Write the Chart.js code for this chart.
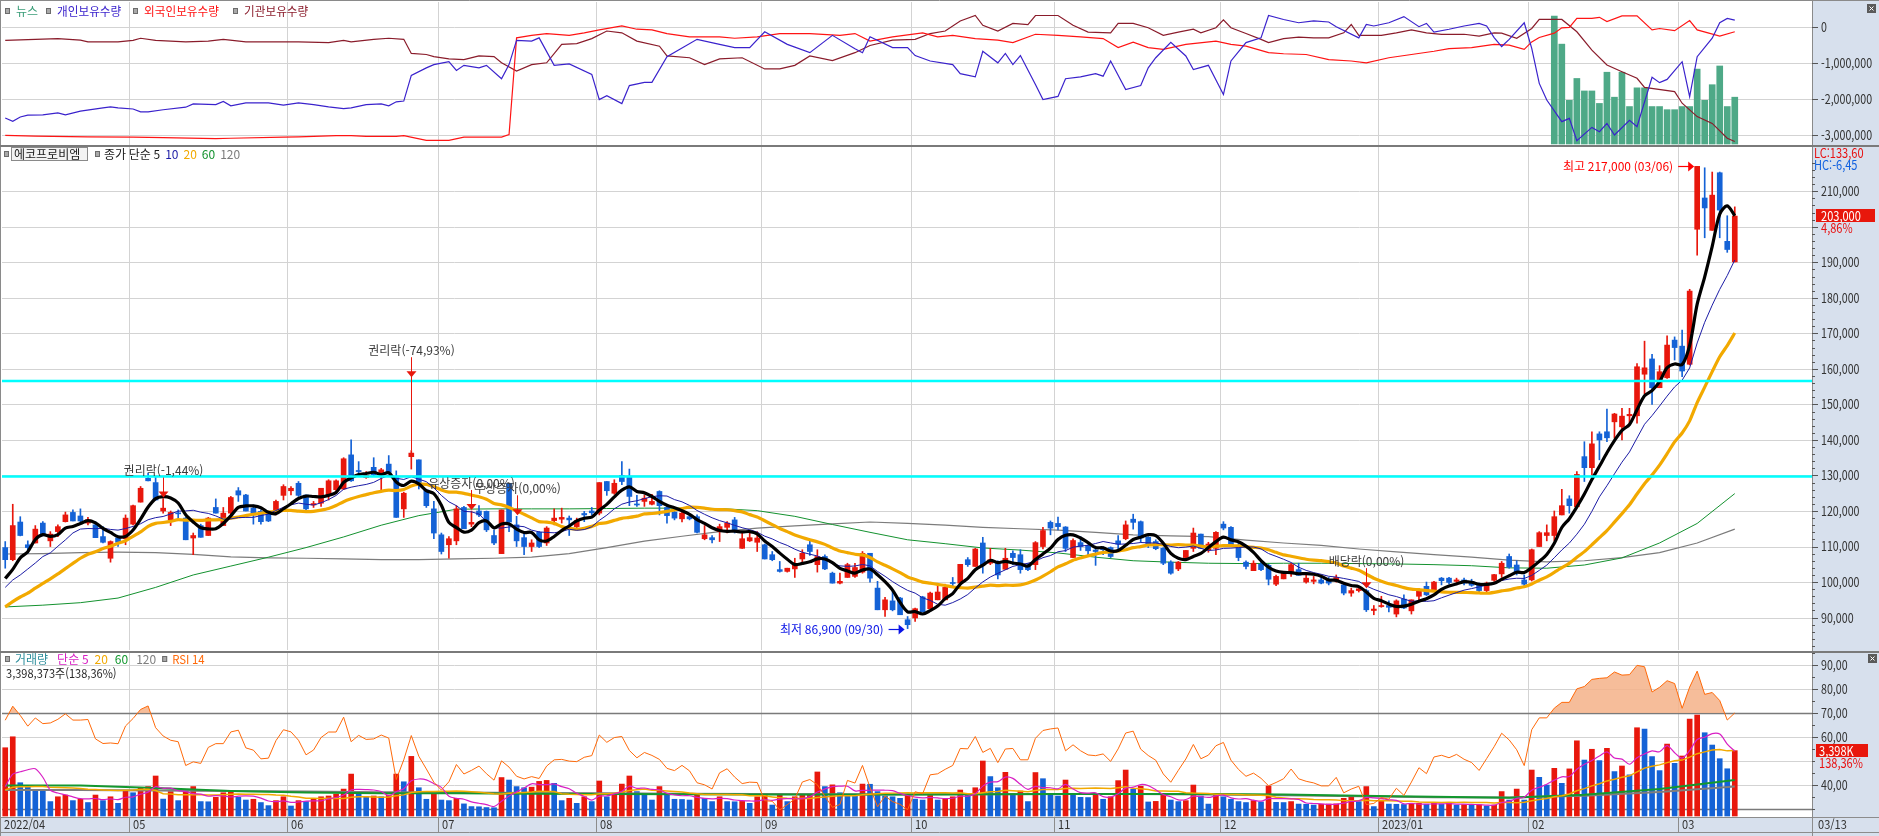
<!DOCTYPE html>
<html lang="ko">
<head>
<meta charset="utf-8">
<title>에코프로비엠</title>
<script src="https://cdn.jsdelivr.net/npm/chart.js@4.4.1/dist/chart.umd.min.js"></script>
<style>
  html, body { margin: 0; padding: 0; background: #fff; }
  #wrap { position: relative; width: 1879px; height: 836px; overflow: hidden; }
  canvas { position: absolute; left: 0; }
</style>
</head>
<body>
<div id="wrap">
  <canvas id="holdCanvas" width="1879" height="145" style="top:0"></canvas>
  <canvas id="priceCanvas" width="1879" height="506" style="top:145px"></canvas>
  <canvas id="volCanvas" width="1879" height="185" style="top:651px"></canvas>
</div>
<script>
(function () {
  'use strict';

  // ---- 데이터 (가격: 천원, 거래량/보유수량: 백만주), 인덱스 0 = 2022/04/07 ----
  const monthStart = [17, 38, 58, 79, 101, 121, 140, 162, 183, 203, 223];
  const monthLabel = ['05', '06', '07', '08', '09', '10', '11', '12', '2023/01', '02', '03'];
  const firstLabel = '2022/04';
  const lastDate = '03/13';
  const lowDate = '09/30';
  const highDate = '03/06';

  // 차트 시작 전 종가 (이동평균/RSI 계산용)
  const preClose = [86, 87, 88, 87, 86.5, 87.5, 88, 89, 88, 88, 95, 99, 93, 98, 95, 103, 97, 101, 97.7];

  const open = [
    109.7,106.3,116.9,110.5,111.0,116.6,111.6,114.2,117.0,119.6,
    118.6,116.6,116.1,112.8,106.7,112.4,112.2,116.3,122.5,129.2,
    128.0,120.0,117.5,119.4,118.0,112.4,115.9,113.1,121.0,115.9,
    119.4,125.7,124.5,120.8,119.9,119.2,120.0,124.4,125.7,127.8,
    124.5,121.7,122.2,124.5,126.0,126.2,135.8,131.4,129.4,132.3,
    130.8,133.2,129.4,120.6,135.3,134.4,125.9,120.6,113.3,110.5,
    111.6,121.0,116.3,120.0,119.9,113.1,108.0,127.8,116.1,112.5,
    110.0,114.0,111.0,117.3,117.7,118.0,115.6,119.3,120.0,119.4,
    128.3,125.0,130.0,129.7,121.8,122.7,121.9,125.5,121.0,119.7,
    117.8,118.4,118.4,112.2,112.5,114.2,115.4,117.5,109.5,111.6,
    111.2,110.5,107.7,103.5,103.0,103.7,106.5,110.5,104.9,107.2,
    102.5,99.7,101.3,101.6,102.8,108.1,98.3,92.2,94.7,95.5,
    89.4,89.9,95.8,92.5,95.0,95.0,99.8,99.7,106.3,104.4,
    111.0,105.3,105.6,103.6,108.1,107.7,104.7,104.9,110.0,116.8,
    116.5,115.5,106.9,111.1,110.2,109.0,109.5,109.7,111.6,112.2,
    117.7,117.0,112.6,111.4,109.5,105.6,103.7,106.9,109.5,113.5,
    109.1,109.5,116.3,115.4,110.2,105.6,103.2,105.0,104.7,99.4,
    100.9,102.5,103.5,100.0,100.2,100.6,100.6,100.6,99.2,96.9,
    97.6,97.6,92.0,93.1,93.4,91.0,95.2,91.9,96.0,98.8,
    97.6,101.1,101.1,100.2,100.6,100.2,99.2,97.6,100.5,102.3,
    107.2,104.8,100.6,100.6,110.0,113.1,113.1,118.9,123.4,121.2,
    135.3,132.2,141.7,142.3,145.1,143.7,146.8,146.8,158.5,162.8,
    154.7,157.5,168.1,166.4,161.3,199.3,208.1,199.0,215.2,195.9,
    190.1
  ];
  const high = [
    111.4,121.9,118.4,111.6,115.9,117.0,114.2,116.1,119.7,120.3,
    120.6,118.2,117.0,115.6,111.6,112.8,118.9,121.7,126.9,130.6,
    129.7,123.5,120.0,120.3,118.2,113.8,116.3,118.2,123.4,121.0,
    124.1,126.6,124.7,121.7,120.3,119.5,123.1,127.4,126.9,128.3,
    124.5,122.7,126.4,128.8,128.8,135.0,140.0,133.9,131.1,135.0,
    132.0,135.6,131.3,125.3,137.0,134.4,125.9,122.7,113.8,112.8,
    121.5,121.3,120.0,121.5,120.0,114.7,120.3,127.8,118.5,113.8,
    111.9,114.2,115.6,120.6,120.8,118.6,118.0,119.9,121.0,128.0,
    128.3,128.8,133.9,131.8,124.4,124.4,124.7,125.7,121.3,120.0,
    119.9,118.9,118.9,115.9,113.1,116.3,117.0,118.2,113.8,114.2,
    114.2,110.7,108.6,105.8,103.9,106.7,109.1,111.6,109.1,107.7,
    102.8,102.5,105.3,105.3,108.6,108.1,100.2,95.7,97.6,95.7,
    90.3,92.7,96.0,97.2,99.2,99.4,101.3,105.0,106.9,109.5,
    112.6,109.5,106.0,109.5,108.8,109.1,105.3,111.4,115.4,117.2,
    118.3,115.6,112.2,112.8,110.5,109.5,110.0,109.9,113.1,117.2,
    119.1,117.2,112.8,111.9,109.7,106.0,105.8,108.9,115.2,113.5,
    111.2,114.2,117.0,115.6,110.9,106.0,106.0,105.6,105.0,102.0,
    103.0,105.3,105.3,102.0,101.6,101.3,101.3,102.0,99.7,98.3,
    98.8,98.0,93.4,96.0,94.7,95.0,96.4,95.0,98.1,100.0,
    100.2,101.3,101.3,101.1,101.1,100.8,99.7,100.0,102.2,105.8,
    107.9,106.0,102.0,109.3,114.2,116.1,120.0,126.1,124.3,131.1,
    139.5,142.3,142.3,148.7,147.5,148.9,148.9,161.5,167.8,164.1,
    160.9,169.3,169.0,170.9,182.4,217.0,216.6,215.4,215.4,203.1,
    205.6
  ];
  const low = [
    103.9,106.0,113.0,108.1,111.0,113.0,110.0,112.8,116.9,117.2,
    117.0,116.1,112.5,111.0,105.6,110.0,110.5,116.1,122.5,128.5,
    123.1,119.4,115.9,117.5,111.9,107.7,112.6,113.1,119.4,115.9,
    118.9,122.7,120.0,116.3,116.3,117.0,118.9,123.1,124.5,124.1,
    120.0,121.0,121.3,123.1,125.0,126.0,128.3,130.2,129.2,130.0,
    125.5,130.6,118.2,118.2,131.8,126.2,121.0,112.2,107.9,106.7,
    110.5,115.0,115.6,118.4,114.2,110.5,108.0,114.2,110.0,107.7,
    108.6,109.7,110.3,116.1,116.6,113.1,115.2,117.0,118.9,118.9,
    124.4,124.7,127.4,121.5,121.3,121.3,121.7,118.9,116.6,117.5,
    116.9,117.5,113.8,111.9,111.0,111.4,113.8,113.8,109.5,111.4,
    108.6,106.5,106.0,102.8,102.8,101.3,104.9,107.5,102.8,103.5,
    99.7,99.5,101.3,101.3,102.5,100.0,92.2,90.3,91.9,90.8,
    86.9,88.9,91.6,92.5,95.0,95.0,98.5,99.7,104.4,104.4,
    102.5,104.9,100.9,103.5,104.9,102.5,103.2,103.5,109.3,113.3,
    114.7,108.6,106.9,108.9,107.5,104.7,107.7,106.9,109.4,111.9,
    114.9,111.2,109.7,109.1,104.9,102.2,103.2,106.7,108.6,109.4,
    108.4,107.7,114.7,110.0,106.0,103.7,103.2,103.2,99.2,99.0,
    100.9,101.6,101.9,99.7,99.5,99.5,99.2,100.0,96.4,96.0,
    97.2,91.7,90.8,92.9,91.6,90.2,92.5,91.0,94.6,96.2,
    97.4,99.2,99.5,99.5,99.2,98.8,96.9,96.9,100.2,101.3,
    103.9,102.0,98.8,100.3,110.0,111.6,111.6,118.9,119.4,121.2,
    128.3,130.1,134.4,139.5,140.5,140.0,144.7,144.7,153.0,150.0,
    154.7,157.3,162.5,157.8,161.1,192.0,196.9,199.0,196.9,192.8,
    190.1
  ];
  const close = [
    106.3,115.9,113.1,109.7,114.9,113.1,113.5,115.6,118.9,117.2,
    117.2,117.5,112.5,111.2,111.4,111.2,118.0,121.5,126.4,128.5,
    123.1,120.8,119.6,119.2,111.9,113.1,112.6,118.0,119.4,119.4,
    123.8,124.5,120.0,119.4,117.0,117.2,122.7,126.9,126.4,124.4,
    120.6,122.1,126.4,128.5,128.5,134.7,128.5,131.1,130.0,130.2,
    131.6,130.9,118.2,125.0,136.3,127.8,121.5,113.8,108.6,112.2,
    120.6,115.0,116.8,118.9,114.7,111.0,120.3,116.9,111.6,110.0,
    111.0,110.0,115.2,118.0,118.2,117.5,117.3,118.9,119.5,128.0,
    125.7,127.8,128.3,124.1,121.7,123.6,122.7,121.5,118.7,118.0,
    119.4,117.8,114.0,113.3,111.9,115.6,116.6,114.2,112.2,112.5,
    112.4,106.5,106.3,103.0,103.9,104.9,108.1,108.6,107.2,103.7,
    99.7,100.2,104.9,104.1,108.1,101.1,92.2,95.0,92.2,90.8,
    88.0,92.5,91.6,96.9,97.2,98.5,99.6,105.0,104.9,109.3,
    104.9,106.3,102.0,106.7,106.9,103.5,103.5,111.1,114.5,115.2,
    115.6,109.5,111.7,110.0,108.8,108.6,109.1,107.2,110.7,116.1,
    116.8,112.4,110.7,109.4,105.3,102.5,105.6,108.9,113.8,109.5,
    110.7,114.0,115.2,110.0,106.9,104.4,105.3,103.5,100.8,101.6,
    102.5,104.9,101.9,101.1,100.6,99.7,99.7,101.3,96.9,97.6,
    98.1,92.2,92.4,93.4,92.9,94.7,92.7,95.0,97.8,96.4,
    100.0,100.4,99.9,100.6,99.7,99.1,97.6,99.7,102.1,105.3,
    104.2,102.5,99.4,109.1,113.9,113.9,118.4,121.5,121.5,130.3,
    132.2,138.9,140.0,140.6,147.3,146.7,147.2,160.6,160.3,154.7,
    159.2,166.7,166.0,159.4,181.9,217.0,205.3,208.9,204.7,193.6,
    203.0
  ];

  const preVolume = [1.3, 1.1, 1.5, 1.2, 1.4, 1.6, 1.2, 1.3, 1.1, 1.4, 1.5, 1.3, 1.2, 1.3, 1.0, 0.9, 1.1, 1.0, 1.1];
  const volume = [
    3.55,4.12,1.73,1.53,1.35,1.34,0.75,1.00,1.09,0.80,
    0.87,0.70,1.09,0.80,1.00,0.66,1.32,1.21,1.49,1.53,
    2.08,0.88,1.27,0.80,1.32,1.53,0.75,0.74,0.97,1.21,
    1.27,0.97,0.83,0.87,0.70,0.54,0.80,1.00,0.52,0.80,
    0.75,0.87,1.00,1.04,1.14,1.40,2.18,1.14,1.00,1.04,
    1.00,1.09,2.18,1.78,3.10,1.47,0.87,1.18,0.83,0.80,
    0.92,0.63,0.49,0.48,0.44,0.43,2.00,1.87,1.53,1.47,
    1.50,1.80,1.85,1.70,0.80,0.92,0.66,1.00,0.75,1.82,
    1.00,1.18,1.66,2.08,1.27,1.09,0.83,1.53,1.18,0.87,
    0.86,0.83,1.09,0.92,0.75,1.00,0.75,0.74,0.76,0.66,
    1.00,1.09,0.57,1.09,0.75,1.00,1.09,1.10,2.29,1.53,
    1.62,1.21,1.09,1.08,1.66,1.65,1.27,1.04,1.00,0.92,
    1.09,0.88,0.83,1.09,0.83,0.87,1.00,1.35,1.09,1.47,
    2.86,2.05,1.47,2.27,1.14,1.30,0.75,2.26,1.94,1.09,
    1.04,1.87,1.09,0.97,0.96,1.14,0.87,1.00,1.84,2.39,
    1.40,1.55,0.73,0.76,1.14,0.83,0.75,0.80,1.61,1.04,
    0.62,1.18,1.00,0.87,0.75,0.70,0.80,0.73,1.56,0.71,
    0.70,0.75,0.62,0.61,0.57,0.61,0.62,0.63,0.92,1.00,
    0.75,1.53,0.49,0.83,0.62,0.61,0.60,0.62,0.66,0.61,
    0.66,0.61,0.66,0.57,0.59,0.57,0.58,0.52,0.57,1.27,
    0.83,1.40,0.83,2.39,2.01,1.61,2.48,1.70,2.45,3.91,
    2.91,3.47,2.88,3.52,2.31,2.60,2.14,4.59,4.52,3.09,
    2.36,3.74,2.74,3.12,5.04,5.25,4.33,3.69,2.98,2.4562,
    3.398373
  ];

  // 60/120일 이동평균 (가격: 5일 간격, 거래량: 10일 간격으로 읽은 값)
  const ma60 = [93.0,93.5,94.2,95.5,98.5,102.0,104.5,107.0,109.7,112.7,116.0,118.7,120.5,120.6,120.6,120.6,
    120.7,120.8,120.8,120.7,120.1,118.5,116.2,114.0,111.9,110.8,109.6,109.0,108.2,107.0,106.0,105.6,
    105.3,105.2,105.3,105.3,105.2,105.1,104.9,104.6,104.0,103.9,104.8,106.8,111.0,116.5,124.9];
  const ma120 = [107.9,108.0,108.3,108.4,108.3,107.8,107.1,106.8,106.7,106.5,106.3,106.3,106.5,106.7,107.0,108.0,
    109.7,111.5,112.9,114.2,115.2,115.8,116.4,116.9,116.5,116.0,115.4,115.0,114.6,114.0,113.3,113.0,
    112.8,111.8,111.0,110.3,109.3,108.5,107.7,107.0,106.2,105.7,106.0,106.9,108.3,111.0,114.9];
  const volMa60 = [1.58,1.58,1.45,1.30,1.22,1.18,1.18,1.16,1.14,1.13,1.12,1.12,1.12,1.13,1.14,1.15,1.15,1.12,1.05,1.00,0.95,1.10,1.40,1.87];
  const volMa120 = [1.35,1.35,1.33,1.30,1.27,1.24,1.22,1.20,1.18,1.16,1.14,1.13,1.12,1.13,1.14,1.14,1.12,1.08,1.03,0.98,0.96,1.05,1.25,1.53];

  const supportLines = [156.6, 129.7];

  const newsStart = 206;
  const newsCount = [41, 32, 14, 21, 17, 17, 13, 23, 15, 23, 12, 18, 18, 12, 12, 11, 11, 12, 12, 24, 14, 19, 25, 12, 15];

  const individualHold = [[0,-2.53],[1,-2.62],[2,-2.5],[3,-2.45],[5,-2.44],[7,-2.39],[8,-2.44],[10,-2.34],[13,-2.25],[14,-2.22],
    [15,-2.25],[17,-2.28],[18,-2.36],[19,-2.36],[21,-2.3],[24,-2.23],[25,-2.14],[28,-2.16],[29,-2.07],[30,-2.19],[32,-2.11],
    [35,-2.11],[37,-2.17],[39,-2.11],[41,-2.16],[43,-2.22],[45,-2.27],[46,-2.25],[48,-2.16],[50,-2.14],[51,-2.19],[52,-2.08],
    [53,-2.06],[54,-1.35],[56,-1.14],[57,-1.05],[59,-0.97],[60,-1.21],[61,-1.07],[63,-1.14],[64,-1.07],[66,-1.44],[67,-1.05],
    [68,-0.38],[70,-0.4],[71,-0.31],[73,-1.07],[75,-1.03],[78,-1.32],[79,-2.02],[80,-1.91],[82,-2.13],[83,-1.63],[85,-1.54],
    [86,-1.54],[88,-0.83],[92,-0.35],[95,-0.49],[97,-0.58],[99,-0.58],[101,-0.14],[104,-0.49],[107,-0.72],[110,-0.24],
    [113,-0.61],[114,-0.72],[115,-0.28],[118,-0.58],[120,-0.58],[121,-0.8],[123,-0.95],[126,-1.05],[127,-1.3],[129,-1.39],
    [130,-0.68],[132,-1.0],[133,-0.74],[134,-1.05],[135,-0.8],[137,-1.6],[138,-2.02],[140,-1.93],[141,-1.44],[143,-1.39],
    [145,-1.3],[146,-1.37],[147,-0.95],[149,-1.74],[151,-1.63],[152,-1.14],[153,-0.86],[155,-0.43],[157,-0.81],[158,-1.19],
    [160,-1.07],[162,-1.88],[163,-0.95],[165,-0.44],[167,-0.31],[168,0.31],[170,0.2],[172,0.11],[174,0.16],[176,0.13],
    [177,0],[180,-0.31],[181,0.06],[182,0.02],[184,0.11],[186,0.28],[188,0],[189,0.09],[190,-0.15],[192,-0.07],[194,0.02],
    [196,0.09],[197,0.02],[198,-0.3],[199,-0.55],[200,-0.35],[202,0.11],[203,-0.6],[204,-1.57],[205,-2.03],[207,-2.63],
    [208,-2.54],[209,-3.16],[211,-2.79],[212,-2.91],[213,-2.68],[214,-3.0],[216,-2.59],[217,-2.77],[219,-1.4],[220,-1.55],
    [221,-1.46],[223,-0.97],[224,-1.94],[225,-0.83],[227,-0.32],[228,0.11],[229,0.23],[230,0.18]];
  const foreignHold = [[0,-3.01],[4,-3.03],[11,-3.05],[17,-3.06],[21,-3.07],[28,-3.1],[30,-3.09],[37,-3.06],[39,-3.05],[44,-3.02],
    [46,-3.02],[48,-3.04],[52,-3.04],[53,-3.02],[56,-3.15],[59,-3.15],[61,-3.06],[66,-3.06],[67,-2.99],[68,-0.31],[70,-0.24],
    [72,-0.19],[75,-0.24],[77,-0.17],[79,-0.09],[82,0.02],[84,-0.07],[86,-0.09],[88,-0.19],[91,-0.28],[95,-0.28],[97,-0.32],
    [100,-0.28],[103,-0.19],[107,-0.19],[111,-0.24],[113,-0.19],[115,-0.4],[118,-0.28],[122,-0.17],[124,-0.28],[126,-0.24],
    [129,-0.33],[132,-0.37],[134,-0.44],[137,-0.21],[140,-0.24],[143,-0.28],[146,-0.33],[148,-0.58],[150,-0.43],[152,-0.58],
    [154,-0.63],[157,-0.49],[161,-0.4],[163,-0.49],[165,-0.54],[168,-0.72],[170,-0.75],[173,-0.77],[176,-0.91],[179,-0.95],
    [181,-1.0],[184,-0.86],[187,-0.77],[190,-0.68],[192,-0.61],[195,-0.58],[198,-0.49],[200,-0.51],[202,-0.63],[203,-0.42],
    [204,-0.3],[206,-0.18],[207,-0.03],[208,-0.02],[209,0.23],[211,0.23],[212,0.26],[213,0.14],[215,0.3],[217,0.3],
    [219,-0.09],[220,-0.05],[222,-0.11],[224,0.17],[225,-0.09],[228,-0.26],[230,-0.14]];
  const institutionHold = [[0,-0.38],[4,-0.35],[7,-0.33],[10,-0.37],[11,-0.42],[15,-0.42],[17,-0.38],[18,-0.32],[20,-0.38],
    [24,-0.42],[27,-0.4],[29,-0.35],[32,-0.42],[39,-0.42],[43,-0.44],[45,-0.38],[46,-0.42],[49,-0.35],[51,-0.32],[53,-0.35],
    [54,-0.74],[56,-0.77],[57,-0.83],[59,-0.89],[61,-0.91],[63,-0.81],[65,-0.83],[66,-1.0],[68,-1.23],[70,-1.05],[72,-1.0],
    [74,-0.49],[76,-0.47],[78,-0.33],[80,-0.12],[82,-0.17],[84,-0.4],[87,-0.54],[88,-0.81],[91,-0.86],[93,-1.05],[95,-0.89],
    [98,-0.86],[101,-1.17],[103,-1.17],[105,-1.07],[107,-0.81],[110,-0.94],[113,-0.72],[115,-0.52],[118,-0.37],[121,-0.35],
    [123,-0.19],[125,-0.12],[127,0.16],[129,0.31],[130,0.04],[132,-0.12],[134,0.09],[136,0.06],[137,0.31],[140,0.31],
    [142,0.04],[144,-0.15],[147,-0.17],[148,0.09],[150,0.09],[152,-0.03],[154,-0.24],[156,-0.15],[158,-0.07],[159,-0.17],
    [161,-0.03],[162,0.19],[163,-0.03],[165,-0.19],[167,-0.35],[168,-0.44],[170,-0.33],[172,-0.29],[174,-0.31],[176,-0.31],
    [178,-0.17],[179,0.06],[180,-0.24],[183,-0.24],[185,-0.17],[187,-0.09],[189,-0.17],[191,-0.21],[194,-0.21],[196,-0.26],
    [198,-0.17],[199,-0.18],[201,-0.32],[203,-0.05],[204,0.2],[207,0.2],[209,-0.14],[211,-0.65],[213,-1.06],[215,-1.25],
    [217,-1.43],[218,-1.68],[222,-1.8],[223,-2.12],[225,-2.49],[227,-2.68],[229,-3.09],[230,-3.18]];

  const markers = [
    { i: 21, text: '권리락(-1,44%)' },
    { i: 54, text: '권리락(-74,93%)', arrowPrice: 158.5 },
    { i: 62, text: '유상증자(0,00%)' },
    { i: 68, text: '무상증자(0,00%)' },
    { i: 181, text: '배당락(0,00%)' }
  ];

  const holdTicks = [0, -1, -2, -3];
  const priceTicks = [90, 100, 110, 120, 130, 140, 150, 160, 170, 180, 190, 200, 210];
  const rsiGrid = [90, 80, 60, 50, 40];
  const rsiLabels = [90, 80, 70, 60, 40];

  // ---- 스타일 ----
  const BAND_X = 1812, BAND_BG = '#d7e0ed', GRID = '#d3d3d3', EDGE = '#8a8a8a';
  const RED = '#e8170c', BLUE = '#1462d6';
  const FONT = '"Noto Sans CJK KR", "Noto Sans", sans-serif';
  const X_MIN = -0.43, X_MAX = 240.27;

  // ---- 계산 ----
  function movingAverage(series, pre, n) {
    const all = pre.concat(series);
    return series.map(function (_, i) {
      const end = pre.length + i, start = Math.max(0, end - n + 1);
      let s = 0;
      for (let k = start; k <= end; k++) s += all[k];
      return s / (end - start + 1);
    });
  }
  // Wilder 방식 RSI
  function rsi(series, pre, n) {
    const all = pre.concat(series);
    const out = [];
    let ag = 0, al = 0;
    for (let k = 1; k < all.length; k++) {
      const d = all[k] - all[k - 1], g = Math.max(d, 0), l = Math.max(-d, 0);
      if (k <= n) { ag += g / n; al += l / n; }
      else { ag = (ag * (n - 1) + g) / n; al = (al * (n - 1) + l) / n; }
      if (k >= pre.length) out.push(ag + al === 0 ? 50 : 100 * ag / (ag + al));
    }
    return out;
  }
  const pts = function (arr, step) { return arr.map(function (v, k) { return { x: k * (step || 1), y: v }; }); };
  const pairs = function (arr) { return arr.map(function (p) { return { x: p[0], y: p[1] }; }); };
  const comma = function (n, d) { return n.toFixed(d).replace('.', ','); };
  const thousands = function (n) { return Math.round(n).toLocaleString('en-US'); };

  const ma5 = movingAverage(close, preClose, 5);
  const ma10 = movingAverage(close, preClose, 10);
  const ma20 = movingAverage(close, preClose, 20);
  const rsi14 = rsi(close, preClose, 14);
  const volMa5 = movingAverage(volume, preVolume, 5);
  const volMa20 = movingAverage(volume, preVolume, 20);

  const last = close.length - 1;
  const lowest = Math.min.apply(null, low), highest = Math.max.apply(null, high);
  const lowIdx = low.indexOf(lowest), highIdx = high.indexOf(highest);

  // ---- 그리기 도우미 ----
  function line(ctx, x1, y1, x2, y2) { ctx.beginPath(); ctx.moveTo(x1, y1); ctx.lineTo(x2, y2); ctx.stroke(); }
  function put(ctx, str, x, y, color, size, sx, align) {
    ctx.save();
    ctx.font = size + 'px ' + FONT;
    ctx.fillStyle = color;
    ctx.textBaseline = 'middle';
    ctx.textAlign = align || 'left';
    ctx.translate(x, y);
    ctx.scale(sx || 1, 1);
    ctx.fillText(str, 0, 0);
    const w = ctx.measureText(str).width * (sx || 1);
    ctx.restore();
    return w;
  }
  function legendSquare(ctx, x, y) {
    ctx.save();
    ctx.fillStyle = '#a9a9a9'; ctx.fillRect(x, y - 3, 5, 6);
    ctx.strokeStyle = '#6c6c6c'; ctx.lineWidth = 1; ctx.strokeRect(x + 0.5, y - 2.5, 4, 5);
    ctx.restore();
  }
  function legendRun(ctx, x, y, parts) {
    parts.forEach(function (p) { x += put(ctx, p[0], x, y, p[1], 12, 1) + (p[2] == null ? 4 : p[2]); });
    return x;
  }
  function closeBtn(ctx, x, y) {
    ctx.save();
    ctx.fillStyle = '#5a5a5a'; ctx.fillRect(x, y, 9, 9);
    ctx.strokeStyle = '#fff'; ctx.lineWidth = 1;
    line(ctx, x + 2.5, y + 2.5, x + 6.5, y + 6.5); line(ctx, x + 6.5, y + 2.5, x + 2.5, y + 6.5);
    ctx.restore();
  }
  function paintBack(chart) {
    const ctx = chart.ctx;
    ctx.save();
    ctx.fillStyle = '#fff'; ctx.fillRect(0, 0, chart.width, chart.height);
    ctx.fillStyle = BAND_BG; ctx.fillRect(BAND_X, 0, chart.width - BAND_X, chart.height);
    ctx.restore();
  }
  function paintGrid(chart, yScale, values) {
    const ctx = chart.ctx, a = chart.chartArea, xs = chart.scales.x;
    ctx.save();
    ctx.beginPath(); ctx.rect(a.left, a.top, a.right - a.left, a.bottom - a.top); ctx.clip();
    ctx.strokeStyle = GRID; ctx.lineWidth = 1;
    values.forEach(function (v) { const y = Math.round(yScale.getPixelForValue(v)) + 0.5; line(ctx, a.left, y, a.right, y); });
    monthStart.forEach(function (m) { const x = Math.round(xs.getPixelForValue(m - 0.5)) + 0.5; line(ctx, x, a.top, x, a.bottom); });
    ctx.restore();
  }
  function paintEdges(chart, topLine) {
    const ctx = chart.ctx;
    ctx.save();
    ctx.strokeStyle = EDGE; ctx.lineWidth = 1;
    line(ctx, BAND_X + 0.5, 0, BAND_X + 0.5, chart.height);
    line(ctx, 0.5, 0, 0.5, chart.height);
    if (topLine) { ctx.strokeStyle = '#7a7a7a'; ctx.lineWidth = 2; line(ctx, 0, 1, chart.width, 1); }
    ctx.restore();
  }
  function tick(ctx, y, len) {
    ctx.save(); ctx.strokeStyle = '#555'; ctx.lineWidth = 1;
    const yy = Math.round(y) + 0.5; line(ctx, BAND_X, yy, BAND_X + len, yy);
    ctx.restore();
  }
  function axisLabel(ctx, y, str) { tick(ctx, y, 6); put(ctx, str, BAND_X + 9, y, '#333', 13, 0.82); }

  const xScale = { type: 'linear', axis: 'x', display: false, min: X_MIN, max: X_MAX, offset: false, bounds: 'data' };
  const yScale = function (min, max) { return { type: 'linear', axis: 'y', display: false, min: min, max: max, bounds: 'data' }; };
  const baseOptions = function (padding, scales) {
    return {
      responsive: false, animation: false, events: [],
      layout: { padding: padding },
      elements: { point: { radius: 0 }, line: { tension: 0 } },
      plugins: { legend: { display: false }, tooltip: { enabled: false } },
      scales: scales
    };
  };
  const lineSet = function (data, color, width, order, yId, extra) {
    return Object.assign({ type: 'line', data: data, borderColor: color, borderWidth: width, pointRadius: 0,
      fill: false, order: order, yAxisID: yId }, extra || {});
  };

  // ---- 상단: 보유수량 / 뉴스 ----
  new Chart(document.getElementById('holdCanvas'), {
    type: 'bar',
    data: {
      datasets: [
        lineSet(pairs(individualHold), '#3a22cc', 1.2, 1, 'y'),
        lineSet(pairs(foreignHold), '#ff1414', 1.2, 2, 'y'),
        lineSet(pairs(institutionHold), '#8a1c2b', 1.2, 3, 'y'),
        { type: 'bar', data: newsCount.map(function (v, k) { return { x: newsStart + k, y: v }; }),
          backgroundColor: '#4ea987', barThickness: 6, grouped: false, order: 4, yAxisID: 'yNews' }
      ]
    },
    options: baseOptions({ left: 2, right: 67, top: 2, bottom: 0 }, {
      x: xScale,
      y: yScale(-3.277, 0.684),
      yNews: yScale(-0.32, 45.5)
    }),
    plugins: [{
      id: 'holdDecor',
      beforeDraw: paintBack,
      beforeDatasetsDraw: function (chart) { paintGrid(chart, chart.scales.y, holdTicks); },
      afterDraw: function (chart) {
        const ctx = chart.ctx, ys = chart.scales.y;
        paintEdges(chart, false);
        ctx.save(); ctx.strokeStyle = EDGE; ctx.lineWidth = 1; line(ctx, 0, 0.5, chart.width, 0.5); ctx.restore();
        holdTicks.forEach(function (v) { axisLabel(ctx, ys.getPixelForValue(v), thousands(v * 1e6)); });
        legendSquare(ctx, 5, 11); put(ctx, '뉴스', 16, 11, '#3a9d78', 12, 1);
        legendSquare(ctx, 46, 11); put(ctx, '개인보유수량', 57, 11, '#3a22cc', 12, 0.97);
        legendSquare(ctx, 133, 11); put(ctx, '외국인보유수량', 144, 11, '#ff1414', 12, 0.97);
        legendSquare(ctx, 233, 11); put(ctx, '기관보유수량', 244, 11, '#8a1c2b', 12, 0.97);
        closeBtn(ctx, 1867, 4);
      }
    }]
  });

  // ---- 가격 차트 ----
  const candleColor = close.map(function (c, i) { return c >= open[i] ? RED : BLUE; });
  new Chart(document.getElementById('priceCanvas'), {
    type: 'bar',
    data: {
      datasets: supportLines.map(function (v) {
        return lineSet([{ x: X_MIN, y: v }, { x: X_MAX, y: v }], '#00ffff', 2.5, 0, 'y');
      }).concat([
        lineSet(pts(ma5), '#000000', 3.2, 1, 'y', { tension: 0.3 }),
        lineSet(pts(ma10), '#1c1ca6', 1, 2, 'y'),
        lineSet(pts(ma20), '#f2a900', 3.2, 3, 'y', { tension: 0.2 }),
        { type: 'bar', data: close.map(function (c, i) { return { x: i, y: [open[i], c] }; }),
          backgroundColor: candleColor, barThickness: 5, minBarLength: 1, grouped: false, order: 4, yAxisID: 'y' },
        { type: 'bar', data: close.map(function (c, i) { return { x: i, y: [low[i], high[i]] }; }),
          backgroundColor: candleColor, barThickness: 1, grouped: false, order: 5, yAxisID: 'y' },
        lineSet(pts(ma60, 5), '#14922f', 1, 6, 'y'),
        lineSet(pts(ma120, 5), '#7c7c7c', 1.2, 7, 'y')
      ])
    },
    options: baseOptions({ left: 2, right: 67, top: 1, bottom: 1 }, {
      x: xScale,
      y: yScale(80.88, 222.73)
    }),
    plugins: [{
      id: 'priceDecor',
      beforeDraw: paintBack,
      beforeDatasetsDraw: function (chart) { paintGrid(chart, chart.scales.y, priceTicks); },
      afterDatasetsDraw: function (chart) {
        const ctx = chart.ctx, xs = chart.scales.x, ys = chart.scales.y;
        markers.forEach(function (m) {
          const x = Math.round(xs.getPixelForValue(m.i)) + 0.5;
          const topY = ys.getPixelForValue(high[m.i]);
          const triY = m.arrowPrice ? ys.getPixelForValue(m.arrowPrice) : topY - 4;
          const textY = triY - 24;
          ctx.save();
          ctx.strokeStyle = RED; ctx.fillStyle = RED; ctx.lineWidth = 1;
          line(ctx, x, textY + 7, x, triY);
          if (m.arrowPrice) line(ctx, x, triY, x, topY);
          ctx.beginPath(); ctx.moveTo(x - 5, triY - 3); ctx.lineTo(x + 5, triY - 3); ctx.lineTo(x, triY + 3); ctx.closePath(); ctx.fill();
          ctx.restore();
          put(ctx, m.text, x, textY, '#3a3a3a', 12, 1, 'center');
        });
        function pointer(idx, price, color, label) {
          const tip = xs.getPixelForValue(idx) - 3, y = Math.round(ys.getPixelForValue(price)) + 0.5;
          ctx.save(); ctx.strokeStyle = color; ctx.fillStyle = color; ctx.lineWidth = 1.2;
          line(ctx, tip - 16, y, tip - 5, y);
          ctx.beginPath(); ctx.moveTo(tip, y); ctx.lineTo(tip - 6, y - 5); ctx.lineTo(tip - 6, y + 5); ctx.closePath(); ctx.fill();
          ctx.restore();
          put(ctx, label, tip - 21, y, color, 12, 1, 'right');
        }
        pointer(highIdx, highest, '#ff0000', '최고 ' + thousands(highest * 1000) + ' (' + highDate + ')');
        pointer(lowIdx, lowest, '#0a14e6', '최저 ' + thousands(lowest * 1000) + ' (' + lowDate + ')');
      },
      afterDraw: function (chart) {
        const ctx = chart.ctx, ys = chart.scales.y;
        paintEdges(chart, true);
        const py = ys.getPixelForValue(close[last]);
        for (let v = 82; v <= 218; v += 2) {
          const y = ys.getPixelForValue(v);
          if (priceTicks.indexOf(v) >= 0 && (y < py - 10 || y > py + 20)) axisLabel(ctx, y, thousands(v * 1000));
          else tick(ctx, y, priceTicks.indexOf(v) >= 0 ? 6 : 3);
        }
        // LC / HC
        put(ctx, 'LC:' + comma((close[last] - lowest) / lowest * 100, 2), BAND_X + 2, 8, '#e81010', 13, 0.85);
        put(ctx, 'HC:' + comma((close[last] - highest) / highest * 100, 2), BAND_X + 2, 20, '#1060e0', 13, 0.85);
        // 현재가
        ctx.save(); ctx.fillStyle = RED; ctx.fillRect(BAND_X + 4, Math.round(py) - 7, 59, 13); ctx.restore();
        put(ctx, thousands(close[last] * 1000), BAND_X + 9, py, '#ffffff', 13, 0.85);
        put(ctx, comma((close[last] - close[last - 1]) / close[last - 1] * 100, 2) + '%', BAND_X + 9, py + 12, '#e81010', 13, 0.85);
        // 범례
        legendSquare(ctx, 4, 9);
        ctx.save(); ctx.fillStyle = '#f3f3f3'; ctx.fillRect(11, 2, 77, 14);
        ctx.strokeStyle = '#8a8a8a'; ctx.lineWidth = 1; ctx.strokeRect(11.5, 2.5, 76, 13); ctx.restore();
        put(ctx, '에코프로비엠', 14, 9, '#1a1a1a', 12, 1);
        legendSquare(ctx, 95, 9);
        legendRun(ctx, 104, 9, [['종가 단순 5', '#1a1a1a', 5], ['10', '#1c1ca6', 5], ['20', '#f2a900', 5], ['60', '#14922f', 5], ['120', '#7c7c7c', 0]]);
      }
    }]
  });

  // ---- 거래량 / RSI ----
  const volColor = volume.map(function (v, i) {
    const prev = i === 0 ? preVolume[preVolume.length - 1] : volume[i - 1];
    return v > prev ? RED : BLUE;
  });
  new Chart(document.getElementById('volCanvas'), {
    type: 'bar',
    data: {
      datasets: [
        lineSet(pts(rsi14), '#ff6a0a', 1, 1, 'yRsi', {
          fill: { target: { value: 70 }, above: 'rgba(244,178,136,0.85)', below: 'rgba(0,0,0,0)' } }),
        lineSet(pts(volMa5), '#d81fc4', 1.2, 2, 'yVol', { tension: 0.3 }),
        lineSet(pts(volMa20), '#f2a900', 1.5, 3, 'yVol'),
        lineSet(pts(volMa60, 10), '#13982f', 2, 4, 'yVol'),
        lineSet(pts(volMa120, 10), '#7e7e7e', 2, 5, 'yVol'),
        { type: 'bar', data: volume.map(function (v, i) { return { x: i, y: v }; }),
          backgroundColor: volColor, barThickness: 5, grouped: false, order: 6, yAxisID: 'yVol' }
      ]
    },
    options: baseOptions({ left: 2, right: 67, top: 1, bottom: 19 }, {
      x: xScale,
      yVol: yScale(-0.052, 8.528),
      yRsi: yScale(26.83, 95.4)
    }),
    plugins: [{
      id: 'volDecor',
      beforeDraw: function (chart) {
        paintBack(chart);
        const ctx = chart.ctx, a = chart.chartArea;
        ctx.save(); ctx.fillStyle = BAND_BG; ctx.fillRect(0, a.bottom, chart.width, chart.height - a.bottom); ctx.restore();
      },
      beforeDatasetsDraw: function (chart) {
        const ctx = chart.ctx, a = chart.chartArea, rs = chart.scales.yRsi;
        paintGrid(chart, rs, rsiGrid);
        ctx.save(); ctx.strokeStyle = '#7a7a7a'; ctx.lineWidth = 1.5;
        [70, 30].forEach(function (v) { const y = Math.round(rs.getPixelForValue(v)) + 0.5; line(ctx, a.left, y, a.right, y); });
        ctx.restore();
      },
      afterDraw: function (chart) {
        const ctx = chart.ctx, a = chart.chartArea, xs = chart.scales.x, rs = chart.scales.yRsi, vs = chart.scales.yVol;
        paintEdges(chart, true);
        for (let v = 30; v <= 95; v += 5) {
          if (rsiLabels.indexOf(v) >= 0) axisLabel(ctx, rs.getPixelForValue(v), comma(v, 2));
          else tick(ctx, rs.getPixelForValue(v), 3);
        }
        const vy = vs.getPixelForValue(volume[last]);
        ctx.save(); ctx.fillStyle = RED; ctx.fillRect(BAND_X + 4, Math.round(vy) - 7, 52, 13); ctx.restore();
        put(ctx, thousands(volume[last] * 1000) + 'K', BAND_X + 7, vy, '#ffffff', 13, 0.85);
        put(ctx, comma(volume[last] / volume[last - 1] * 100, 2) + '%', BAND_X + 7, vy + 12, '#e81010', 13, 0.85);
        // 날짜 축
        const bt = a.bottom;
        ctx.save(); ctx.strokeStyle = '#8c8c8c'; ctx.lineWidth = 1;
        line(ctx, 0, bt + 0.5, chart.width, bt + 0.5);
        line(ctx, 0, chart.height - 3.5, chart.width, chart.height - 3.5);
        monthStart.forEach(function (m) { const x = Math.round(xs.getPixelForValue(m - 0.5)) + 0.5; line(ctx, x, bt, x, chart.height - 3); });
        line(ctx, BAND_X + 0.5, bt, BAND_X + 0.5, chart.height);
        ctx.restore();
        put(ctx, firstLabel, 4, bt + 7, '#333', 12, 0.92);
        monthStart.forEach(function (m, k) { put(ctx, monthLabel[k], Math.round(xs.getPixelForValue(m - 0.5)) + 4, bt + 7, '#333', 12, 0.92); });
        put(ctx, lastDate, BAND_X + 6, bt + 7, '#333', 12, 0.92);
        // 범례
        legendSquare(ctx, 5, 8);
        const x1 = legendRun(ctx, 15, 8, [['거래량', '#2f8f9d', 9], ['단순 5', '#d81fc4', 6], ['20', '#f2a900', 7], ['60', '#13982f', 8], ['120', '#7e7e7e', 6]]);
        legendSquare(ctx, x1, 8);
        put(ctx, 'RSI 14', x1 + 10, 8, '#ff6a0a', 12, 0.95);
        put(ctx, thousands(volume[last] * 1e6) + '주(' + comma(volume[last] / volume[last - 1] * 100, 2) + '%)', 6, 22, '#2a2a2a', 12, 0.92);
        closeBtn(ctx, 1868, 3);
      }
    }]
  });
})();
</script>
</body>
</html>
